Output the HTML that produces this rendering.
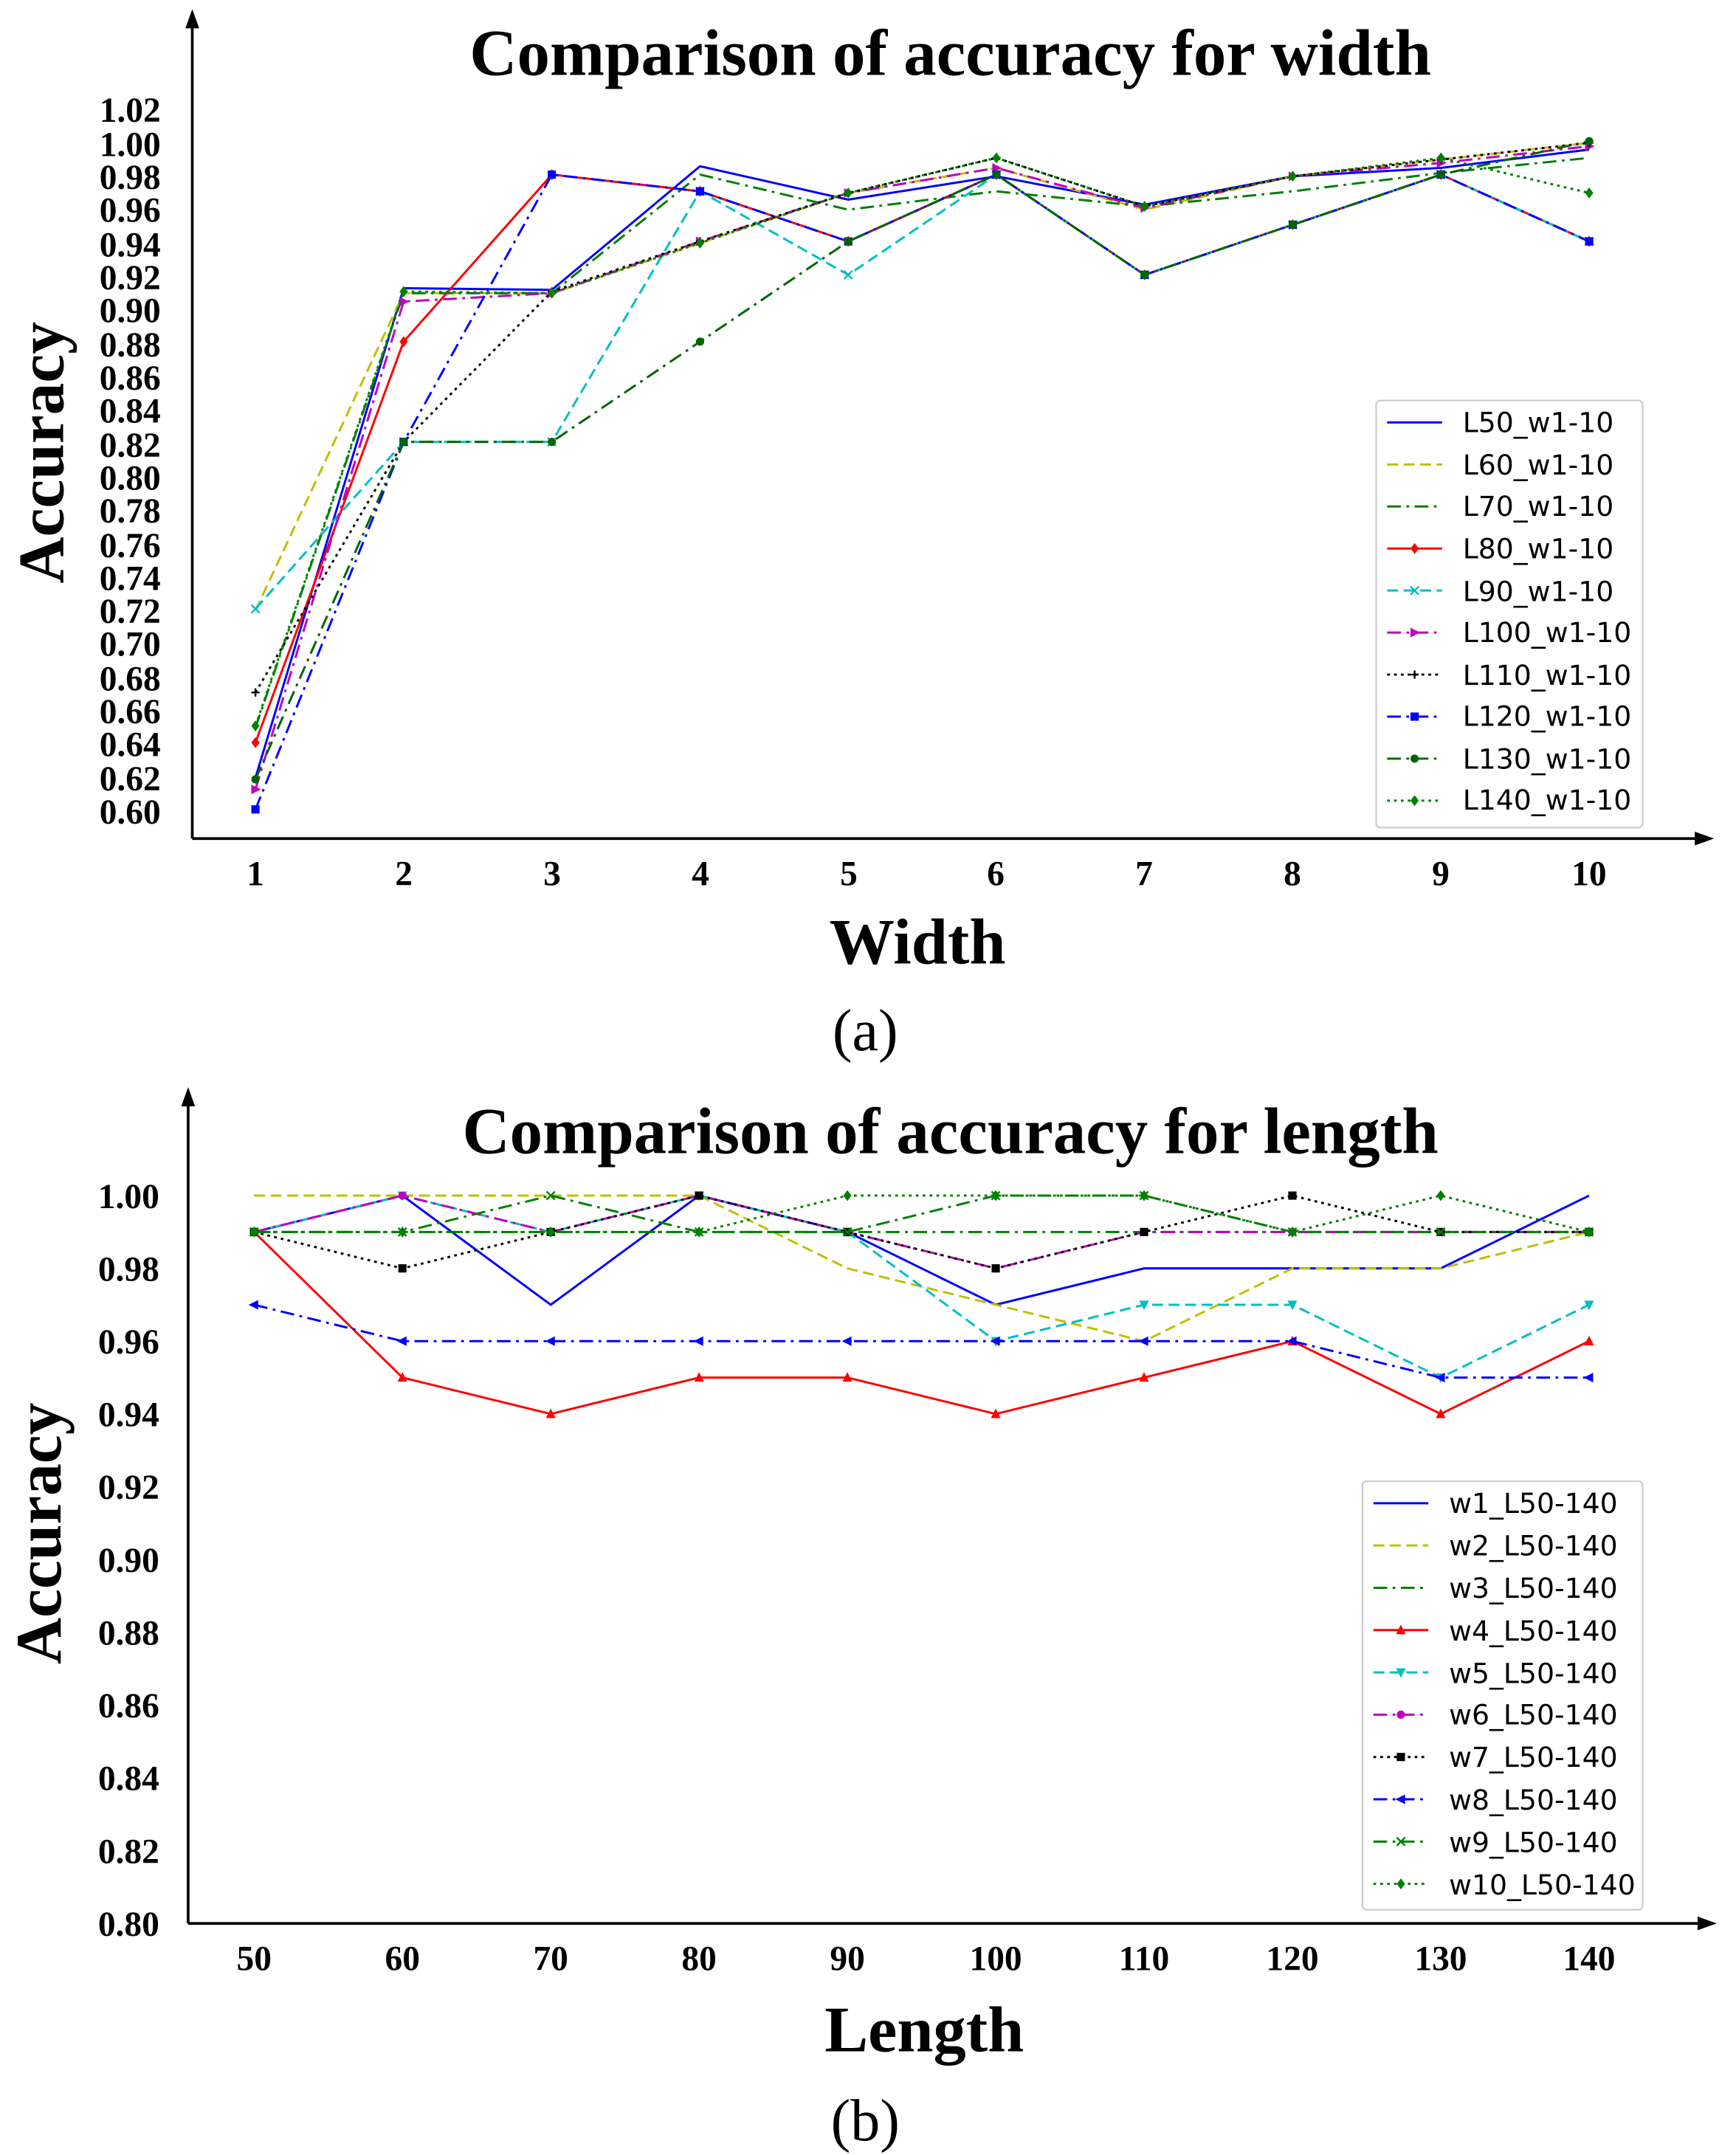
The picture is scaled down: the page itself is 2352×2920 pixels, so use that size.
<!DOCTYPE html>
<html><head><meta charset="utf-8">
<style>
html,body{margin:0;padding:0;background:#fff}
svg{display:block}
.t{font-family:"Liberation Serif",serif;font-weight:bold}
.lg{font-family:"DejaVu Sans","Liberation Sans",sans-serif;font-size:20.3px}
</style></head>
<body>
<svg id="s" width="2352" height="2920" viewBox="0 0 1264 1568" xmlns="http://www.w3.org/2000/svg">
<rect width="1264" height="1568" fill="#fff"/>
<g stroke="#000" stroke-width="2" fill="none">
<line x1="140" y1="610" x2="140" y2="14"/>
<line x1="140" y1="610" x2="1240" y2="610"/>
<line x1="137" y1="1400" x2="137" y2="799"/>
<line x1="137" y1="1400" x2="1242" y2="1400"/>
</g>
<polygon points="140,6 135,20 145,20" fill="#000"/>
<polygon points="1248,610 1234,605 1234,615" fill="#000"/>
<polygon points="137,791 132,805 142,805" fill="#000"/>
<polygon points="1250,1400 1236,1395 1236,1405" fill="#000"/>

<text class="t" x="692" y="54" font-size="47.8" text-anchor="middle">Comparison of accuracy for width</text>
<text class="t" x="692" y="839" font-size="47.8" text-anchor="middle">Comparison of accuracy for length</text>
<text class="t" x="668" y="701" font-size="47.5" text-anchor="middle">Width</text>
<text class="t" x="673" y="1493" font-size="47.5" text-anchor="middle">Length</text>
<text x="630" y="764" font-size="43" text-anchor="middle" font-family="Liberation Serif,serif">(a)</text>
<text x="630" y="1558" font-size="43" text-anchor="middle" font-family="Liberation Serif,serif">(b)</text>
<text class="t" font-size="47" transform="translate(46,329) rotate(-90)" text-anchor="middle">Accuracy</text>
<text class="t" font-size="47" transform="translate(44,1116) rotate(-90)" text-anchor="middle">Accuracy</text>

<g class="t" font-size="25.5" text-anchor="end">
<text x="117" y="599">0.60</text><text x="117" y="575">0.62</text><text x="117" y="550">0.64</text><text x="117" y="526">0.66</text><text x="117" y="502">0.68</text><text x="117" y="477">0.70</text><text x="117" y="453">0.72</text><text x="117" y="429">0.74</text><text x="117" y="405">0.76</text><text x="117" y="380">0.78</text><text x="117" y="356">0.80</text><text x="117" y="332">0.82</text><text x="117" y="307">0.84</text><text x="117" y="283">0.86</text><text x="117" y="259">0.88</text><text x="117" y="234">0.90</text><text x="117" y="210">0.92</text><text x="117" y="186">0.94</text><text x="117" y="161">0.96</text><text x="117" y="137">0.98</text><text x="117" y="113">1.00</text><text x="117" y="88">1.02</text>
</g>
<g class="t" font-size="25.5" text-anchor="middle">
<text x="186" y="644">1</text><text x="294" y="644">2</text><text x="402" y="644">3</text><text x="510" y="644">4</text><text x="618" y="644">5</text><text x="725" y="644">6</text><text x="833" y="644">7</text><text x="941" y="644">8</text><text x="1049" y="644">9</text><text x="1157" y="644">10</text>
<text x="185" y="1434">50</text><text x="293" y="1434">60</text><text x="401" y="1434">70</text><text x="509" y="1434">80</text><text x="617" y="1434">90</text><text x="725" y="1434">100</text><text x="833" y="1434">110</text><text x="941" y="1434">120</text><text x="1049" y="1434">130</text><text x="1157" y="1434">140</text>
</g>
<g class="t" font-size="25.5" text-anchor="end">
<text x="116" y="879">1.00</text><text x="116" y="932">0.98</text><text x="116" y="985">0.96</text><text x="116" y="1038">0.94</text><text x="116" y="1091">0.92</text><text x="116" y="1144">0.90</text><text x="116" y="1197">0.88</text><text x="116" y="1250">0.86</text><text x="116" y="1303">0.84</text><text x="116" y="1356">0.82</text><text x="116" y="1409">0.80</text>
</g>

<rect x="1002" y="291" width="194" height="311" fill="#fff" stroke="#ccc" stroke-width="1.2" rx="3"/>
<rect x="992" y="1078" width="204" height="312" fill="#fff" stroke="#ccc" stroke-width="1.2" rx="3"/>
<g class="lg">
<text x="1065" y="314">L50_w1-10</text><text x="1065" y="345">L60_w1-10</text><text x="1065" y="375">L70_w1-10</text><text x="1065" y="406">L80_w1-10</text><text x="1065" y="437">L90_w1-10</text><text x="1065" y="467">L100_w1-10</text><text x="1065" y="498">L110_w1-10</text><text x="1065" y="528">L120_w1-10</text><text x="1065" y="559">L130_w1-10</text><text x="1065" y="589">L140_w1-10</text>
<text x="1055" y="1101">w1_L50-140</text><text x="1055" y="1132">w2_L50-140</text><text x="1055" y="1163">w3_L50-140</text><text x="1055" y="1194">w4_L50-140</text><text x="1055" y="1225">w5_L50-140</text><text x="1055" y="1255">w6_L50-140</text><text x="1055" y="1286">w7_L50-140</text><text x="1055" y="1317">w8_L50-140</text><text x="1055" y="1348">w9_L50-140</text><text x="1055" y="1379">w10_L50-140</text>
</g>
<g id="g"></g>
</svg>
<script>
var NS="http://www.w3.org/2000/svg",G=document.getElementById("g");
function el(t,a){var e=document.createElementNS(NS,t);for(var k in a)e.setAttribute(k,a[k]);G.appendChild(e);return e;}
var D={solid:"",dash:"8,4",dd:"10,4,2,4",dot:"2,3"};
function mk(m,x,y,c){
 if(!m)return;
 if(m=="d")el("polygon",{points:(x)+","+(y-4)+" "+(x+3)+","+y+" "+x+","+(y+4)+" "+(x-3)+","+y,fill:c});
 else if(m=="s")el("rect",{x:x-3,y:y-3,width:6,height:6,fill:c});
 else if(m=="o")el("circle",{cx:x,cy:y,r:3,fill:c});
 else if(m=="x"||m=="+"){var r=3;if(m=="x"){el("line",{x1:x-r,y1:y-r,x2:x+r,y2:y+r,stroke:c,"stroke-width":1.3});el("line",{x1:x-r,y1:y+r,x2:x+r,y2:y-r,stroke:c,"stroke-width":1.3});}else{el("line",{x1:x-r,y1:y,x2:x+r,y2:y,stroke:c,"stroke-width":1.3});el("line",{x1:x,y1:y-r,x2:x,y2:y+r,stroke:c,"stroke-width":1.3});}}
 else if(m==">")el("polygon",{points:(x+4)+","+y+" "+(x-3)+","+(y-3.5)+" "+(x-3)+","+(y+3.5),fill:c});
 else if(m=="<")el("polygon",{points:(x-4)+","+y+" "+(x+3)+","+(y-3.5)+" "+(x+3)+","+(y+3.5),fill:c});
 else if(m=="^")el("polygon",{points:x+","+(y-4)+" "+(x-3.5)+","+(y+3)+" "+(x+3.5)+","+(y+3),fill:c});
 else if(m=="v")el("polygon",{points:x+","+(y+4)+" "+(x-3.5)+","+(y-3)+" "+(x+3.5)+","+(y-3),fill:c});
}
function series(pts,c,st,m,lx,ly,lx2){
 el("polyline",{points:pts.map(p=>p.join(",")).join(" "),fill:"none",stroke:c,"stroke-width":1.6,"stroke-dasharray":D[st]});
 pts.forEach(p=>mk(m,p[0],p[1],c));
 el("line",{x1:lx,y1:ly,x2:lx2,y2:ly,stroke:c,"stroke-width":1.6,"stroke-dasharray":D[st]});
 mk(m,(lx+lx2)/2,ly,c);
}
var A=[
["#0000ff","solid","",[.62,.913,.912,.986,.966,.98,.963,.98,.985,.996]],
["#bfbf00","dash","",[.72,.91,.91,.94,.97,.985,.96,.98,.99,1.0]],
["#008000","dd","",[.65,.91,.91,.981,.96,.971,.962,.971,.982,.991]],
["#ff0000","solid","d",[.641,.881,.981,.971,.941,.981,.921,.951,.981,.941]],
["#00bfbf","dash","x",[.721,.821,.821,.971,.921,.981,.921,.951,.981,.941]],
["#bf00bf","dd",">",[.613,.905,.91,.941,.97,.985,.961,.98,.988,.998]],
["#000000","dot","+",[.671,.821,.911,.941,.97,.991,.962,.98,.99,1.0]],
["#0000ff","dd","s",[.601,.821,.981,.971,.941,.981,.921,.951,.981,.941]],
["#006400","dd","o",[.619,.821,.821,.881,.941,.981,.921,.951,.981,1.001]],
["#008000","dot","d",[.651,.911,.91,.94,.97,.991,.962,.98,.991,.97]]];
A.forEach(function(s,i){series(s[3].map((v,j)=>[186+j*107.9,590-(v-0.6)/0.02*24.33]),s[0],s[1],s[2],1010,307+i*30.6,1050);});
var B=[
["#0000ff","solid","",[.99,1,.97,1,.99,.97,.98,.98,.98,1]],
["#bfbf00","dash","",[1,1,1,1,.98,.97,.96,.98,.98,.99]],
["#008000","dd","",[.99,.99,.99,.99,.99,.99,.99,.99,.99,.99]],
["#ff0000","solid","^",[.99,.95,.94,.95,.95,.94,.95,.96,.94,.96]],
["#00bfbf","dash","v",[.99,1,.99,1,.99,.96,.97,.97,.95,.97]],
["#bf00bf","dd","o",[.99,1,.99,1,.99,.98,.99,.99,.99,.99]],
["#000000","dot","s",[.99,.98,.99,1,.99,.98,.99,1,.99,.99]],
["#0000ff","dd","<",[.97,.96,.96,.96,.96,.96,.96,.96,.95,.95]],
["#008000","dd","x",[.99,.99,1,.99,.99,1,1,.99,.99,.99]],
["#008000","dot","d",[.99,.99,.99,.99,1,1,1,.99,1,.99]]];
B.forEach(function(s,i){series(s[3].map((v,j)=>[185+j*108,870+(1-v)/0.02*53]),s[0],s[1],s[2],1000,1094+i*30.8,1040);});
</script>
</body></html>
